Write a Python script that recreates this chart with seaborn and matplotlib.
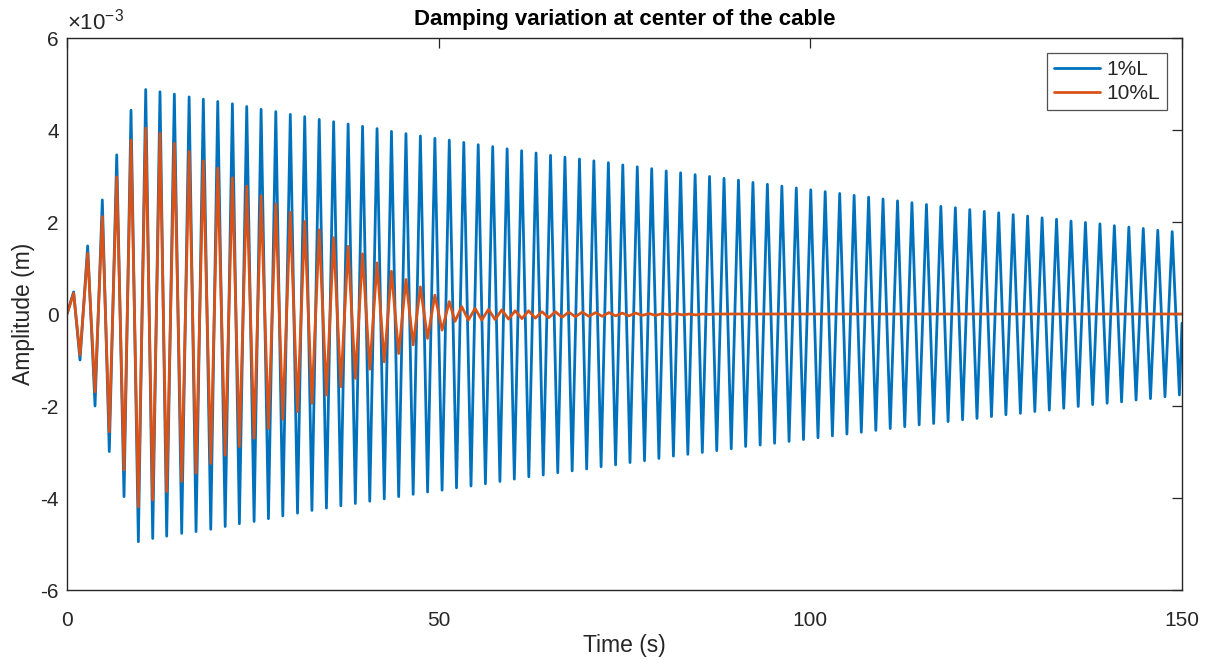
import matplotlib
matplotlib.use("Agg")
import matplotlib.pyplot as plt
import seaborn as sns
import pandas as pd

# ---------------- data (amplitude in units of 1e-3 m) ----------------
blue_peak_t = [0.89, 2.78, 4.75, 6.69, 8.61, 10.59, 12.51, 14.44, 16.43, 18.34, 20.28, 22.25,
               24.18, 26.11, 28.09, 30.04, 31.98, 33.93, 35.87, 37.82, 39.76, 41.71, 43.65,
               45.60, 47.54, 49.49, 51.43, 53.38, 55.32, 57.27, 59.21, 61.16, 63.10, 65.05,
               66.99, 68.94, 70.88, 72.83, 74.77, 76.72, 78.66, 80.61, 82.55, 84.50, 86.44,
               88.39, 90.33, 92.28, 94.22, 96.17, 98.11, 100.06, 102.00, 103.95, 105.89,
               107.84, 109.78, 111.73, 113.67, 115.62, 117.56, 119.51, 121.45, 123.40,
               125.34, 127.29, 129.23, 131.18, 133.12, 135.07, 137.01, 138.96, 140.90,
               142.85, 144.79, 146.74, 148.68]
blue_peak_v = [0.48, 1.48, 2.48, 3.46, 4.43, 4.88, 4.83, 4.78, 4.72, 4.67, 4.62, 4.57,
               4.51, 4.45, 4.40, 4.34, 4.29, 4.23, 4.18, 4.13, 4.08, 4.03, 3.97,
               3.92, 3.87, 3.82, 3.78, 3.73, 3.68, 3.64, 3.59, 3.55, 3.50, 3.45,
               3.41, 3.37, 3.33, 3.29, 3.24, 3.20, 3.16, 3.11, 3.07, 3.03, 2.99,
               2.95, 2.91, 2.86, 2.82, 2.78, 2.74, 2.70, 2.66, 2.62, 2.58,
               2.54, 2.50, 2.46, 2.42, 2.38, 2.34, 2.31, 2.27, 2.23,
               2.20, 2.16, 2.13, 2.09, 2.06, 2.02, 1.99, 1.96, 1.92,
               1.89, 1.86, 1.82, 1.79]
blue_trough_t = [1.75, 3.77, 5.69, 7.67, 9.60, 11.53, 13.41, 15.43, 17.36, 19.34, 21.28, 23.19,
                 25.17, 27.10, 29.03, 31.01, 32.95, 34.90, 36.84, 38.79, 40.73, 42.68, 44.62,
                 46.57, 48.51, 50.46, 52.40, 54.35, 56.29, 58.24, 60.18, 62.13, 64.07, 66.02,
                 67.96, 69.91, 71.85, 73.80, 75.74, 77.69, 79.63, 81.58, 83.52, 85.47, 87.41,
                 89.36, 91.30, 93.25, 95.19, 97.14, 99.08, 101.03, 102.97, 104.92, 106.86,
                 108.81, 110.75, 112.70, 114.64, 116.59, 118.53, 120.48, 122.42, 124.37,
                 126.31, 128.26, 130.20, 132.15, 134.09, 136.04, 137.98, 139.93, 141.87,
                 143.82, 145.76, 147.71, 149.65]
blue_trough_v = [-1.00, -2.00, -2.99, -3.97, -4.95, -4.88, -4.83, -4.77, -4.73, -4.68, -4.62, -4.56,
                 -4.51, -4.45, -4.39, -4.33, -4.27, -4.22, -4.17, -4.12, -4.07, -4.02, -3.97,
                 -3.92, -3.87, -3.83, -3.78, -3.74, -3.69, -3.64, -3.59, -3.54, -3.50, -3.45,
                 -3.41, -3.37, -3.32, -3.28, -3.23, -3.19, -3.14, -3.09, -3.05, -3.01, -2.97,
                 -2.93, -2.88, -2.85, -2.81, -2.77, -2.73, -2.69, -2.65, -2.61, -2.57,
                 -2.53, -2.49, -2.45, -2.41, -2.38, -2.34, -2.30, -2.27, -2.23,
                 -2.19, -2.16, -2.12, -2.09, -2.05, -2.01, -1.97, -1.94, -1.91,
                 -1.87, -1.84, -1.80, -1.76]
blue_start = (0.0, 0.0)
blue_end = (150.0, -0.2)

orange_t = [0, 0.89, 1.75, 2.78, 3.77, 4.75, 5.69, 6.69, 7.67, 8.61, 9.60, 10.59, 11.53,
            12.51, 13.41, 14.44, 15.43, 16.43, 17.36, 18.34, 19.34, 20.28, 21.28, 22.25,
            23.19, 24.18, 25.17, 26.11, 27.10, 28.09, 29.03, 30.04, 31.01, 31.98, 32.95,
            33.93, 34.90, 35.87, 36.84, 37.82, 38.79, 39.76, 40.73, 41.71, 42.68, 43.65,
            44.62, 45.60, 46.57, 47.54, 48.51, 49.49, 50.46, 51.43,
            52.2, 53.1, 54.0, 54.9, 55.8, 56.7, 57.6, 58.5, 59.4, 60.3, 61.2, 62.1, 63.0,
            63.9, 64.8, 65.7, 66.6, 67.5, 68.4, 69.3, 70.2, 71.1, 72.0, 72.9, 73.8, 74.7,
            75.6, 76.5, 77.4, 78.3, 79.2, 80.1, 81.0, 81.9, 82.8, 83.7, 84.6, 85.5, 86.4,
            87.3, 150.0]
orange_v = [0, 0.45, -0.89, 1.32, -1.69, 2.12, -2.56, 2.98, -3.39, 3.78, -4.19, 4.04, -4.04,
            3.93, -3.86, 3.71, -3.64, 3.53, -3.46, 3.33, -3.25, 3.17, -3.07, 2.96,
            -2.88, 2.78, -2.70, 2.57, -2.49, 2.39, -2.29, 2.21, -2.12, 2.01, -1.94,
            1.83, -1.76, 1.66, -1.58, 1.47, -1.40, 1.31, -1.20, 1.11, -1.04, 0.93,
            -0.86, 0.75, -0.67, 0.59, -0.53, 0.41, -0.35, 0.27,
            -0.16, 0.16, -0.13, 0.12, -0.13, 0.10, -0.12, 0.09, -0.11, 0.07, -0.10, 0.07, -0.09,
            0.05, -0.08, 0.05, -0.07, 0.04, -0.06, 0.04, -0.05, 0.03, -0.05, 0.03, -0.04, 0.02,
            -0.04, 0.02, -0.03, 0.01, -0.03, 0.01, -0.02, 0.01, -0.02, 0.0, -0.02, 0.0, -0.01,
            0.0, 0.0]

series_names = ["1%L", "10%L"]
x_ticks = [0, 50, 100, 150]
y_ticks = [-6, -4, -2, 0, 2, 4, 6]

# ---------------- assemble ----------------
blue_pts = sorted([blue_start] + list(zip(blue_peak_t, blue_peak_v))
                  + list(zip(blue_trough_t, blue_trough_v)) + [blue_end])
blue_df = pd.DataFrame(blue_pts, columns=["t", "a"])
orange_df = pd.DataFrame({"t": orange_t, "a": orange_v})

sns.set_theme(style="white")
plt.rcParams["font.family"] = ["Liberation Sans", "DejaVu Sans"]
plt.rcParams["axes.unicode_minus"] = False
plt.rcParams["mathtext.fontset"] = "custom"
plt.rcParams["mathtext.rm"] = "Liberation Sans"
plt.rcParams["mathtext.it"] = "Liberation Sans:italic"

dark = "#262626"
fig = plt.figure(figsize=(12.11, 6.60), dpi=100)
ax = fig.add_axes([67 / 1211, 1 - 590 / 660, (1182 - 67) / 1211, (590 - 38) / 660])

sns.lineplot(data=blue_df, x="t", y="a", ax=ax, color="#0072BD", linewidth=2.0,
             sort=False, estimator=None, label=series_names[0])
sns.lineplot(data=orange_df, x="t", y="a", ax=ax, color="#D95319", linewidth=2.0,
             sort=False, estimator=None, label=series_names[1])

ax.set_xlim(0, 150)
ax.set_ylim(-6, 6)
ax.set_xticks(x_ticks)
ax.set_yticks(y_ticks)
ax.set_xticklabels([str(v) for v in x_ticks])
ax.set_yticklabels([str(v) for v in y_ticks])
ax.tick_params(direction="in", length=7, width=0.9, colors=dark, labelsize=15,
               top=True, right=True, pad=6)
ax.tick_params(axis="x", pad=15)
for s in ax.spines.values():
    s.set_visible(True)
    s.set_color(dark)
    s.set_linewidth(1.0)

ax.set_xlabel("Time (s)", fontsize=16.5, color=dark, labelpad=3)
ax.set_ylabel("Amplitude (m)", fontsize=16.5, color=dark, labelpad=4)
ax.set_title("Damping variation at center of the cable", fontsize=16, fontweight="bold",
             color="black", pad=9)
ax.text(0.0, 1.006, r"$\times\mathregular{10^{-3}}$", transform=ax.transAxes,
        fontsize=16, color=dark, ha="left", va="bottom")

leg = ax.legend(loc="upper right", fontsize=15, frameon=True, fancybox=False,
                edgecolor=dark, borderaxespad=0.7, handlelength=2.2, handletextpad=0.3,
                borderpad=0.35, labelspacing=0.25)
leg.get_frame().set_linewidth(0.9)
for t in leg.get_texts():
    t.set_color(dark)

fig.savefig("out.png", dpi=100, facecolor="white")
